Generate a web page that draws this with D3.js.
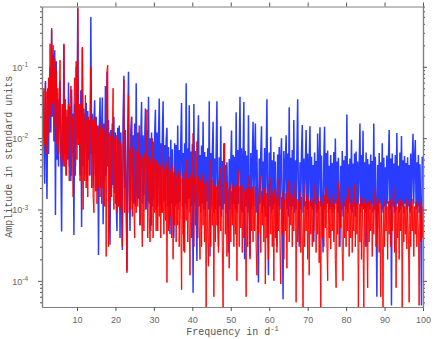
<!DOCTYPE html>
<html>
<head>
<meta charset="utf-8">
<script src="https://cdn.jsdelivr.net/npm/d3@7"></script>
<style>
  body { margin: 0; background: #fff; }
  .tick text { font-family: "Liberation Sans", Arial, sans-serif; font-size: 9px; fill: #666; }
  .axis-title { font-family: "Liberation Mono", "Courier New", monospace; font-size: 10px; fill: #555; }
</style>
</head>
<body>
<svg id="chart" width="436" height="339"></svg>
<script>
// Amplitude spectra on a 0.2 d^-1 frequency grid starting at 1.0
var freqStart = 1.0, freqStep = 0.2;

var xTicks = [10, 20, 30, 40, 50, 60, 70, 80, 90, 100];
var yMajor = [1e-4, 1e-3, 1e-2, 1e-1];
var yExp = ["-4", "-3", "-2", "-1"];

// blue spectrum
var blueAmp = [
  0.03,0.045,0.008,0.0023,0.063,0.01,0.0014,0.05,0.006,0.04,0.1,0.012,0.33,0.02,0.15,0.009,0.17,0.00084,0.12,0.005,0.035,0.004,0.028,0.064,0.006,
  0.00049,0.03,0.004,0.2,0.006,0.025,0.003,0.02,0.005,0.06,0.004,0.028,0.0025,0.048,0.006,0.022,0.00044,0.03,0.004,0.1,0.008,0.65,0.01,0.025,0.003,
  0.047,0.00057,0.18,0.004,0.026,0.003,0.02,0.031,0.0025,0.024,0.005,0.018,0.003,0.5,0.006,0.022,0.002,0.016,0.034,0.003,0.02,0.0018,0.015,0.00023,0.014,
  0.037,0.002,0.014,0.037,0.00062,0.016,0.0025,0.054,0.003,0.085,0.004,0.018,0.0015,0.00032,0.013,0.002,0.016,0.0022,0.02,0.0017,0.012,0.0013,0.0005,0.014,0.0016,
  0.015,0.0004,0.012,0.0016,0.00027,0.018,0.075,0.002,0.013,0.0015,0.00014,0.011,0.085,0.0018,0.0005,0.013,0.02,0.0013,0.011,0.0012,0.016,0.0011,0.059,0.0015,0.012,
  0.0014,0.012,0.0006,0.01,0.032,0.0012,0.011,0.0016,0.009,0.026,0.001,0.013,0.0013,0.038,0.0012,0.01,0.0005,0.012,0.0011,0.009,0.0014,0.011,0.025,0.001,0.012,
  0.0011,0.01,0.036,0.0012,0.0085,0.0009,0.011,0.033,0.0013,0.008,0.001,0.0095,0.014,0.0011,0.0075,0.0012,0.00045,0.0095,0.0012,0.007,0.001,0.0004,0.0085,0.0011,0.008,
  0.0012,0.015,0.001,0.0068,0.0013,0.0088,0.031,0.0011,0.0062,0.00026,0.0085,0.0012,0.059,0.001,0.0072,0.0014,0.029,0.0009,0.0065,0.0011,0.0082,0.000068,0.03,0.0012,0.0066,
  0.001,0.00019,0.0075,0.021,0.0011,0.0058,0.0009,0.0079,0.0012,0.017,0.001,0.0064,0.0008,0.0055,0.0013,0.0072,0.001,0.033,0.00022,0.0062,0.0011,0.0058,0.017,0.0009,0.0052,
  0.001,0.0066,0.033,0.0009,0.0003,0.0054,0.0011,0.0147,0.0008,0.0048,0.001,0.0085,0.0012,0.0042,0.0009,0.0046,0.0011,0.00025,0.0051,0.001,0.0044,0.0128,0.0008,0.0058,0.0012,
  0.0055,0.001,0.023,0.0009,0.0068,0.0012,0.0061,0.038,0.001,0.0072,0.0009,0.0049,0.032,0.0002,0.0066,0.0011,0.0057,0.0009,0.021,0.0012,0.00022,0.0062,0.001,0.0048,0.017,
  0.0011,0.0058,0.016,0.0009,0.0069,0.001,0.000095,0.0052,0.0012,0.0061,0.0147,0.0009,0.0047,0.0011,0.0073,0.0008,0.0054,0.035,0.001,0.00012,0.0063,0.0011,0.0105,0.0009,0.0049,
  0.001,0.0064,0.0012,0.0047,0.0009,0.0003,0.0059,0.0011,0.0075,0.001,0.0052,0.01,0.0009,0.000055,0.0066,0.0012,0.0045,0.011,0.001,0.0061,0.0008,0.027,0.0011,0.0053,0.001,
  0.0068,0.0011,0.018,0.0009,0.0049,0.001,0.0058,0.035,0.0012,0.0003,0.0046,0.001,0.0064,0.0153,0.0009,0.0052,0.0011,0.0043,0.013,0.001,0.0061,0.0008,0.0047,0.0147,0.0011,
  0.0055,0.001,0.0042,0.00035,0.0063,0.0012,0.0048,0.0009,0.0116,0.001,0.0044,0.0142,0.0011,0.0057,0.0009,0.00025,0.0049,0.0145,0.001,0.0062,0.0012,0.0067,0.0009,0.0041,0.001,
  0.0058,0.0011,0.0045,0.0009,0.0064,0.001,0.0099,0.0012,0.0047,0.0009,0.0053,0.0011,0.0003,0.0041,0.001,0.0066,0.0008,0.0049,0.0011,0.0056,0.001,0.0215,0.0009,0.0043,0.0012,
  0.0052,0.001,0.0095,0.0009,0.0044,0.0011,0.0061,0.0008,0.0065,0.001,0.0047,0.0012,0.0039,0.016,0.0009,0.0058,0.0011,0.0127,0.001,0.0046,0.0009,0.0063,0.0003,0.0051,0.0011,
  0.0043,0.001,0.0059,0.0012,0.0048,0.0009,0.016,0.001,0.0055,0.0011,0.00006,0.0042,0.0009,0.0062,0.0012,0.0046,0.001,0.0085,0.0009,0.0053,0.0011,0.0039,0.001,0.0057,0.0012,
  0.0047,0.013,0.001,0.0052,0.000045,0.0061,0.0011,0.0044,0.0009,0.0058,0.001,0.0118,0.0012,0.0041,0.0009,0.0063,0.001,0.0107,0.0011,0.0049,0.0009,0.0056,0.0012,0.0045,0.001,
  0.0054,0.0011,0.0042,0.0009,0.0061,0.001,0.0047,0.0115,0.0012,0.0052,0.0094,0.001,0.0046,0.0011,0.0058,0.0009,0.0043,0.001,0.000045,0.0055,0.0048
];

// red spectrum
var redAmp = [
  0.04,0.01,0.05,0.008,0.06,0.006,0.045,0.01,0.07,0.012,0.21,0.02,0.35,0.03,0.2,0.015,0.13,0.01,0.09,0.008,0.05,0.006,0.04,0.124,0.005,
  0.004,0.03,0.005,0.21,0.004,0.035,0.003,0.025,0.006,0.03,0.0025,0.028,0.054,0.003,0.02,0.0015,0.025,0.07,0.003,0.12,0.005,0.68,0.008,0.03,0.0025,
  0.03,0.002,0.19,0.001,0.022,0.0025,0.04,0.002,0.018,0.0015,0.02,0.003,0.015,0.1,0.002,0.018,0.0015,0.0009,0.02,0.0018,0.016,0.0012,0.014,0.002,0.012,
  0.0015,0.016,0.0012,0.014,0.002,0.012,0.0011,0.015,0.00022,0.09,0.105,0.0003,0.012,0.0013,0.011,0.0015,0.013,0.05,0.001,0.01,0.0012,0.011,0.0009,0.0095,0.0011,
  0.009,0.001,0.0085,0.0008,0.0003,0.01,0.066,0.0009,0.008,0.0011,0.00013,0.0075,0.04,0.0009,0.007,0.001,0.02,0.0008,0.0075,0.001,0.0004,0.007,0.0009,0.0065,0.0011,
  0.006,0.015,0.0006,0.0058,0.0009,0.0003,0.0052,0.0005,0.0061,0.001,0.0048,0.025,0.0004,0.0055,0.0008,0.00035,0.0047,0.0006,0.01,0.0004,0.0051,0.0009,0.0044,0.0005,0.0049,
  0.0005,0.0043,0.0008,0.0039,0.0004,0.008,0.0009,0.0046,0.00045,0.0037,0.0007,0.0044,0.000095,0.0038,0.0005,0.0055,0.0008,0.0034,0.0004,0.0041,0.0002,0.0033,0.0006,0.0038,0.00035,
  0.0029,0.0006,0.0035,0.0003,0.0031,0.0007,0.000075,0.0027,0.00045,0.0033,0.00025,0.0029,0.0007,0.005,0.00035,0.0027,0.0005,0.00012,0.0031,0.0004,0.0025,0.0117,0.0003,0.0028,0.0006,
  0.0024,0.009,0.0004,0.0028,0.00055,0.0002,0.0025,0.0003,0.0031,0.0006,0.0023,0.00035,0.0021,0.00004,0.0026,0.00045,0.00016,0.0024,0.005,0.0003,0.0021,0.0006,0.0026,0.00006,0.0022,
  0.00035,0.0021,0.0006,0.0026,0.00025,0.0019,0.004,0.0005,0.0023,0.0003,0.00004,0.002,0.0085,0.00045,0.0024,0.00022,0.0019,0.0005,0.00015,0.0022,0.00035,0.0018,0.0006,0.0023,0.0003,
  0.002,0.00045,0.0022,0.0001,0.0017,0.0035,0.0003,0.0021,0.00055,0.0016,0.00025,0.0022,0.0004,0.0018,0.0006,0.00006,0.002,0.0003,0.0017,0.003,0.0002,0.0019,0.0005,0.0021,0.00035,
  0.0017,0.0005,0.0021,0.0003,0.00012,0.0016,0.00045,0.0019,0.003,0.00025,0.0018,0.0006,0.0015,0.00035,0.002,0.00009,0.0017,0.0004,0.0015,0.0002,0.0019,0.0028,0.00045,0.0016,0.0003,
  0.0017,0.0001,0.0019,0.0004,0.0015,0.00025,0.0017,0.0005,0.0028,0.0003,0.00009,0.0015,0.00045,0.0018,0.0002,0.0014,0.0005,0.0017,0.00015,0.0015,0.0025,0.00035,0.0017,0.0006,0.0014,
  0.0003,0.0015,0.0005,0.0016,0.0024,0.00005,0.0014,0.00035,0.0013,0.00055,0.0017,0.00025,0.0015,0.0004,0.00004,0.0022,0.0003,0.0013,0.0005,0.0016,0.0002,0.0014,0.00012,0.0013,0.00045,
  0.0015,0.0003,0.0013,0.0005,0.0016,0.0023,0.00025,0.0012,0.00045,0.0015,0.00018,0.0013,0.00004,0.0015,0.0004,0.0012,0.0003,0.0016,0.00055,0.002,0.00035,0.0001,0.0014,0.0004,0.0012,
  0.00028,0.0014,0.0005,0.0016,0.00035,0.0012,0.0002,0.00008,0.0014,0.00045,0.0024,0.0003,0.0012,0.00055,0.0015,0.00025,0.0001,0.0013,0.0004,0.0012,0.0003,0.0015,0.0005,0.002,0.00022,
  0.0012,0.0004,0.0015,0.00025,0.0013,0.0005,0.0022,0.0003,0.0012,0.00045,0.0014,0.00004,0.0012,0.00035,0.0015,0.0002,0.0012,0.0005,0.00004,0.0014,0.0003,0.0012,0.00045,0.00008,0.0013,
  0.00035,0.0013,0.0005,0.0014,0.00022,0.0011,0.00045,0.0013,0.002,0.0003,0.0012,0.00055,0.0014,0.00025,0.0012,0.00006,0.0011,0.0004,0.00004,0.0014,0.0003,0.0012,0.0005,0.0011,0.0002,
  0.0013,0.00045,0.0014,0.0003,0.0011,0.0005,0.0012,0.002,0.00025,0.0013,0.00008,0.0011,0.0004,0.0013,0.0002,0.0014,0.0005,0.0011,0.00004,0.0013,0.00035,0.0011,0.00045,0.0014,0.00028,
  0.0012,0.0004,0.00005,0.0013,0.0003,0.0011,0.0005,0.0014,0.00022,0.0011,0.00045,0.0013,0.0003,0.0012,0.0005,0.000045,0.0013,0.00035,0.0011,0.0004,0.0011
];

var svg = d3.select("#chart");
var plotLeft = 42, plotRight = 423, plotTop = 6.5, plotBottom = 307;

var x = d3.scaleLinear().domain([0.9, 100]).range([plotLeft, plotRight]);
var y = d3.scaleLog().domain([4.3e-5, 0.7]).range([plotBottom, plotTop]);

function toPoints(amp) {
  return amp.map(function(a, i) { return [freqStart + i * freqStep, a]; });
}
var bluePts = toPoints(blueAmp);
var redPts = toPoints(redAmp);

svg.append("defs").append("clipPath").attr("id", "plotclip")
  .append("rect").attr("x", plotLeft).attr("y", plotTop)
  .attr("width", plotRight - plotLeft).attr("height", plotBottom - plotTop);

var plot = svg.append("g").attr("clip-path", "url(#plotclip)");

// blue drawn first as one opaque line
var line = d3.line().x(function(d) { return x(d[0]); }).y(function(d) { return y(d[1]); });
plot.append("path").datum(bluePts)
  .attr("d", line)
  .attr("fill", "none")
  .attr("stroke", "#2a3dff")
  .attr("stroke-width", 1.5)
  .attr("stroke-linejoin", "miter");

// red on top, segment by segment so the transparency builds up where it is dense
plot.append("g").selectAll("line")
  .data(d3.pairs(redPts))
  .join("line")
  .attr("x1", function(d) { return x(d[0][0]); })
  .attr("y1", function(d) { return y(d[0][1]); })
  .attr("x2", function(d) { return x(d[1][0]); })
  .attr("y2", function(d) { return y(d[1][1]); })
  .attr("stroke", "#ff0000")
  .attr("stroke-opacity", 0.85)
  .attr("stroke-width", 1.2);

// axes
var yMinor = y.ticks().filter(function(v) { return yMajor.indexOf(v) < 0; });

function styleAxis(g) {
  g.select(".domain").attr("stroke", "#808080").attr("stroke-width", 1.2);
  g.selectAll(".tick line").attr("stroke", "#555");
}

svg.append("g").attr("transform", "translate(0," + plotBottom + ")")
  .call(d3.axisBottom(x).tickValues(xTicks).tickSize(4).tickSizeOuter(0).tickPadding(6).tickFormat(d3.format("d")))
  .call(styleAxis);
svg.append("g").attr("transform", "translate(0," + plotTop + ")")
  .call(d3.axisTop(x).tickValues(xTicks).tickSize(4).tickSizeOuter(0).tickFormat(""))
  .call(styleAxis);

svg.append("g").attr("transform", "translate(" + plotLeft + ",0)")
  .call(d3.axisLeft(y).tickValues(yMinor).tickSize(2).tickSizeOuter(0).tickFormat(""))
  .call(styleAxis);
svg.append("g").attr("transform", "translate(" + plotRight + ",0)")
  .call(d3.axisRight(y).tickValues(yMinor).tickSize(2).tickSizeOuter(0).tickFormat(""))
  .call(styleAxis);
svg.append("g").attr("transform", "translate(" + plotRight + ",0)")
  .call(d3.axisRight(y).tickValues(yMajor).tickSize(4).tickSizeOuter(0).tickFormat(""))
  .call(styleAxis);

var yAx = svg.append("g").attr("transform", "translate(" + plotLeft + ",0)")
  .call(d3.axisLeft(y).tickValues(yMajor).tickSize(4).tickSizeOuter(0).tickPadding(10).tickFormat(""))
  .call(styleAxis);

// powers of ten with superscript exponents
yAx.selectAll(".tick text").each(function(d) {
  var t = d3.select(this).attr("dy", "0.36em");
  t.append("tspan").text("10");
  t.append("tspan").attr("dy", "-3.5").attr("font-size", "6.5px").text(yExp[yMajor.indexOf(d)]);
});

svg.append("text").attr("class", "axis-title")
  .attr("x", (plotLeft + plotRight) / 2).attr("y", 335)
  .attr("text-anchor", "middle")
  .call(function(t) {
    t.append("tspan").text("Frequency in d");
    t.append("tspan").attr("dy", -4).attr("font-size", "7px").text("-1");
  });

svg.append("text").attr("class", "axis-title")
  .attr("transform", "translate(12," + (plotTop + plotBottom) / 2 + ") rotate(-90)")
  .attr("text-anchor", "middle")
  .text("Amplitude in standard units");
</script>
</body>
</html>
